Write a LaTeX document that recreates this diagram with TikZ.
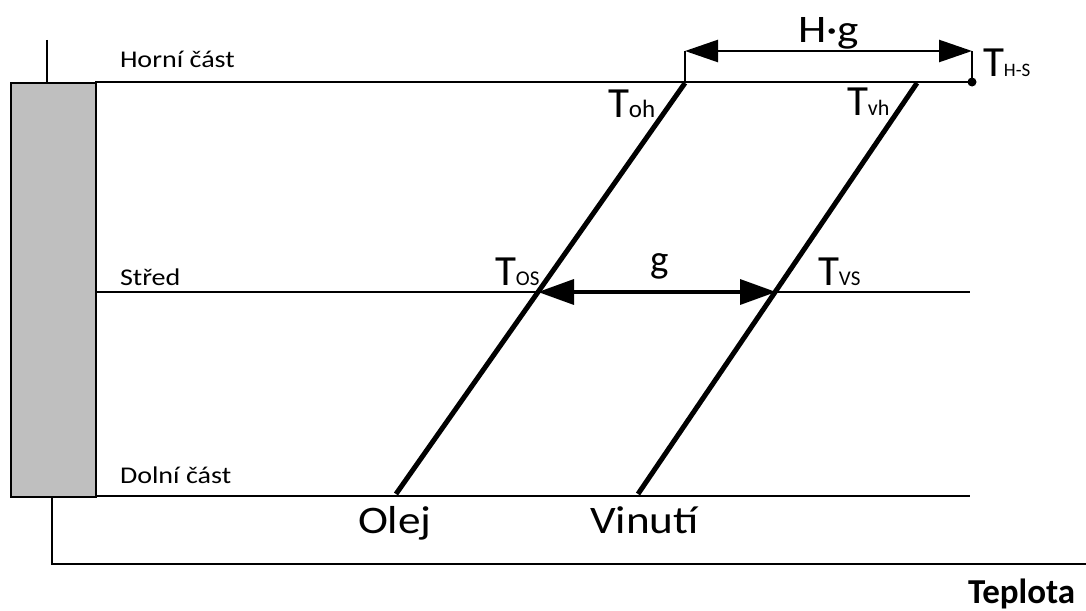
\documentclass[tikz,border=0pt]{standalone}
\usepackage{fontspec}
\setmainfont{Carlito}
\usetikzlibrary{arrows.meta}
\newcommand{\fs}[1]{\fontsize{#1}{#1}\selectfont}
\begin{document}
\begin{tikzpicture}[x=1pt,y=-1pt,
  lbl/.style={anchor=base west,inner sep=0pt,outer sep=0pt},
  small lbl/.style={lbl,xscale=1.17},
  big lbl/.style={lbl,xscale=1.16},
  thin line/.style={line width=2pt},
  axis line/.style={line width=2.2pt},
  profile/.style={line width=5pt},
  dim/.style={line width=2.5pt,{Triangle[length=33pt,width=22pt]}-{Triangle[length=33pt,width=22pt]}},
  gdim/.style={line width=3.5pt,{Triangle[length=36pt,width=25pt]}-{Triangle[length=36pt,width=25pt]}}]
\useasboundingbox (0,0) rectangle (1086,610);
% wall
\node[draw=black,fill=black!25,line width=1.8pt,minimum width=85pt,minimum height=414pt,inner sep=0pt,anchor=north west] (wall) at (10,82) {};
% axes
\coordinate (ytop) at (47,40);
\coordinate (ybot) at (47,82);
\draw[axis line] (ytop) -- (ybot);
\coordinate (a1) at (52,496);
\coordinate (a2) at (52,564);
\coordinate (a3) at (1086,564);
\draw[axis line] (a1) -- (a2) -- (a3);
% level lines
\coordinate (h1) at (95,82);  \coordinate (h2) at (972,82);
\coordinate (m1) at (95,292); \coordinate (m2) at (970,292);
\coordinate (d1) at (95,496); \coordinate (d2) at (970,496);
\draw[thin line] (h1) -- (h2);
\draw[thin line] (m1) -- (m2);
\draw[thin line] (d1) -- (d2);
% profiles
\coordinate (ob) at (396,494); \coordinate (ot) at (685,83);
\coordinate (vb) at (638,494); \coordinate (vt) at (917,83);
\draw[profile] (ob) -- (ot);
\draw[profile] (vb) -- (vt);
% H.g dimension
\coordinate (hg1) at (685,51); \coordinate (hg2) at (972,51);
\coordinate (hs) at (972,82);
\draw[thin line] (ot) -- (hg1);
\draw[thin line] (hs) -- (hg2);
\draw[dim] (hg1) -- (hg2);
\fill (hs) circle (4.5pt);
% g dimension
\coordinate (g1) at (538,292); \coordinate (g2) at (776,292);
\draw[gdim] (g1) -- (g2);
% labels
\node[small lbl] (lh) at (120,67) {\fs{24}Horní část};
\node[small lbl] (ls) at (120,285) {\fs{24}Střed};
\node[small lbl] (ld) at (120,483) {\fs{24}Dolní část};
\node[big lbl] (lo) at (358,533) {\fs{39}Olej};
\node[big lbl] (lv) at (590,533) {\fs{39}Vinutí};
\node[big lbl] (lhg) at (798,42) {\fs{39}H·g};
\node[lbl] (lg) at (650,272) {\fs{39}g};
\node[lbl] (toh) at (608,117) {\fs{43}T\fs{25}oh};
\node[lbl] (tvh) at (847,115) {\fs{43}T\fs{22}vh};
\node[lbl] (tos) at (495,285) {\fs{43}T\fs{21}OS};
\node[lbl] (tvs) at (818,285) {\fs{43}T\fs{21}VS};
\node[lbl] (ths) at (983,76) {\fs{43}T\fs{19}H-S};
\node[lbl] (tep) at (968,603) {\fs{35}\bfseries Teplota};
\end{tikzpicture}
\end{document}
